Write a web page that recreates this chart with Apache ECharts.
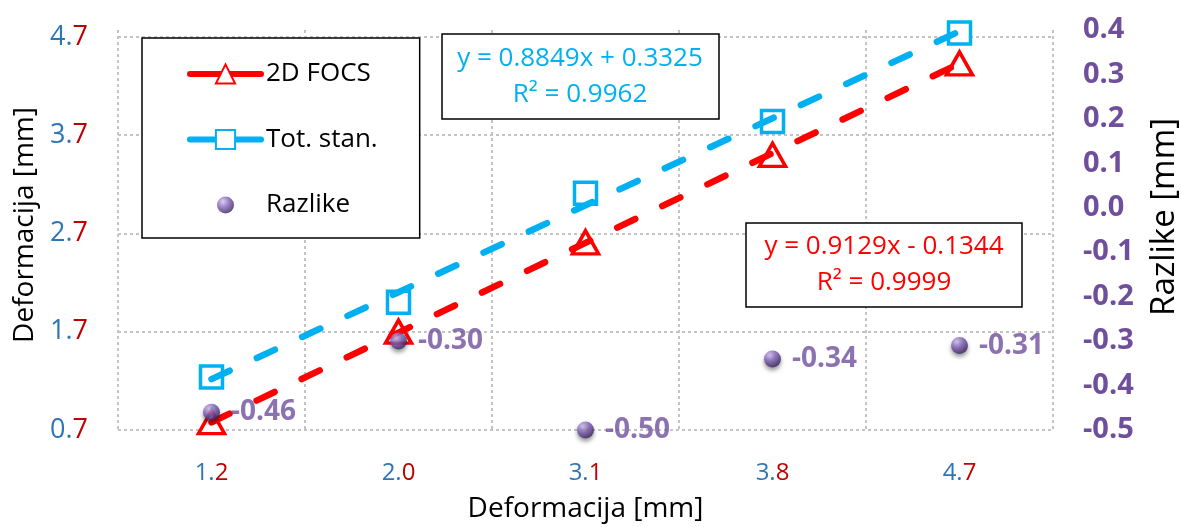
<!DOCTYPE html>
<html>
<head>
<meta charset="utf-8">
<script src="https://cdn.jsdelivr.net/npm/echarts@6/dist/echarts.min.js"></script>
<style>
html,body{margin:0;padding:0;background:#fff;}
#c{width:1181px;height:527px;}
</style>
</head>
<body>
<div id="c"></div>
<script>
// ---- data ----
const categories = ['1.2', '2.0', '3.1', '3.8', '4.7'];
const focs = [0.78, 1.70, 2.61, 3.50, 4.43];
const totStan = [1.24, 2.00, 3.11, 3.84, 4.74];
const razlike = [-0.46, -0.30, -0.50, -0.34, -0.31];
const trendSlopes = [0.9129, 0.8849];      // 2D FOCS, Tot. stan.
const trendIntercepts = [-0.1344, 0.3325];
const trendR2 = [0.9999, 0.9962];
const seriesNames = ['2D FOCS', 'Tot. stan.', 'Razlike'];

const FONT = '"Open Sans", "Noto Sans", sans-serif';
const RED = '#ff0000', BLUE = '#00b0f0', PURPLE = '#6f4f9c';
const LBL_BLUE = '#2e75b6', LBL_RED = '#c00000';

function trendValues(k) {
  return categories.map((c, i) => +(trendSlopes[k] * (i + 1) + trendIntercepts[k]).toFixed(4));
}
function eqText(k) {
  const b = trendIntercepts[k];
  return 'y = ' + trendSlopes[k].toFixed(4) + 'x ' + (b < 0 ? '- ' : '+ ') + Math.abs(b).toFixed(4) +
         '\nR\u00B2 = ' + trendR2[k].toFixed(4);
}
function twoTone(s) {
  return '{b|' + s.slice(0, -1) + '}{r|' + s.slice(-1) + '}';
}
const gridLine = {color: '#c4c4c4', width: 2, type: [3, 3]};

const chart = echarts.init(document.getElementById('c'), null, {renderer: 'canvas'});
const sphereStops = [
  {offset: 0, color: '#d2c2ee'},
  {offset: 0.45, color: '#8364ba'},
  {offset: 1, color: '#341d56'}
];
const sphere = new echarts.graphic.RadialGradient(0.35, 0.3, 0.75, sphereStops);
const sphereLegend = new echarts.graphic.RadialGradient(0.394, 0.358, 0.531, sphereStops);

chart.setOption({
  animation: false,
  backgroundColor: '#fff',
  textStyle: {fontFamily: FONT},
  grid: {left: 118, right: 128, top: 30, bottom: 97, containLabel: false, outerBoundsMode: 'none'},
  legend: {
    orient: 'vertical',
    left: 142, top: 38,
    padding: [23, 42, 20, 45],
    itemGap: 39.5,
    itemWidth: 71, itemHeight: 24,
    backgroundColor: '#fff',
    borderColor: '#000', borderWidth: 1.5,
    textStyle: {fontSize: 26, color: '#000', fontFamily: FONT},
    data: [
      {name: seriesNames[0], lineStyle: {color: RED, width: 6, type: 'solid', cap: 'round', opacity: 1}},
      {name: seriesNames[1], lineStyle: {color: BLUE, width: 6, type: 'solid', cap: 'round', opacity: 1}},
      {name: seriesNames[2],
       icon: 'path://M0,0M24,24M20.5,12A8.5,8.5,0,1,1,3.5,12A8.5,8.5,0,1,1,20.5,12Z',
       itemStyle: {color: sphereLegend}}
    ]
  },
  xAxis: {
    type: 'category',
    data: categories,
    boundaryGap: true,
    axisLine: {show: false},
    axisTick: {show: false},
    splitLine: {show: true, interval: 0, lineStyle: gridLine},
    axisLabel: {
      margin: 31, interval: 0,
      formatter: v => twoTone(v),
      rich: {
        b: {color: LBL_BLUE, fontSize: 24, fontFamily: FONT},
        r: {color: LBL_RED, fontSize: 24, fontFamily: FONT}
      }
    },
    name: 'Deformacija [mm]',
    nameLocation: 'middle',
    nameGap: 65,
    nameTextStyle: {fontSize: 28, color: '#000', fontFamily: FONT}
  },
  yAxis: [
    {
      type: 'value', position: 'left',
      min: 0.7, max: 4.77, interval: 1,
      axisLine: {show: false}, axisTick: {show: false},
      splitLine: {show: true, showMaxLine: false, lineStyle: gridLine},
      axisLabel: {
        margin: 30, showMaxLabel: false,
        formatter: v => twoTone((Math.round(v * 10) / 10).toFixed(1)),
        rich: {
          b: {color: LBL_BLUE, fontSize: 27, fontFamily: FONT},
          r: {color: LBL_RED, fontSize: 27, fontFamily: FONT}
        }
      },
      name: 'Deformacija [mm]',
      nameLocation: 'middle', nameRotate: 90, nameGap: 78,
      nameTextStyle: {fontSize: 28, color: '#000', fontFamily: FONT, padding: [0, 0, 0, 10]}
    },
    {
      type: 'value', position: 'right',
      min: -0.5, max: 0.4, interval: 0.1,
      axisLine: {show: false}, axisTick: {show: false},
      splitLine: {show: false},
      axisLabel: {
        margin: 30, align: 'left',
        color: PURPLE, fontWeight: 'bold', fontSize: 29, fontFamily: FONT,
        formatter: v => (Math.round(v * 10) / 10).toFixed(1)
      },
      name: 'Razlike [mm]',
      nameLocation: 'middle', nameRotate: 90, nameGap: 95,
      nameTextStyle: {fontSize: 33, color: '#000', fontFamily: FONT, padding: [0, 0, 0, 26]}
    }
  ],
  series: [
    {
      name: seriesNames[0], type: 'line', data: focs, z: 2,
      symbol: 'triangle', symbolSize: [26, 23],
      lineStyle: {width: 0, opacity: 0},
      itemStyle: {color: '#fff', borderColor: RED, borderWidth: 3.5}
    },
    {
      name: seriesNames[1], type: 'line', data: totStan, z: 2,
      symbol: 'rect', symbolSize: 22,
      lineStyle: {width: 0, opacity: 0},
      itemStyle: {color: '#fff', borderColor: BLUE, borderWidth: 3.5}
    },
    {
      name: 'trend0', type: 'line', data: trendValues(0), z: 3,
      symbol: 'none', silent: true,
      lineStyle: {color: RED, width: 6.5, type: [20, 30], cap: 'round'}
    },
    {
      name: 'trend1', type: 'line', data: trendValues(1), z: 3,
      symbol: 'none', silent: true,
      lineStyle: {color: BLUE, width: 6.5, type: [20, 30], cap: 'round'}
    },
    {
      name: seriesNames[2], type: 'scatter', yAxisIndex: 1, data: razlike, z: 5,
      symbol: 'circle', symbolSize: 17,
      itemStyle: {color: sphere, shadowBlur: 4, shadowColor: 'rgba(0,0,0,0.5)', shadowOffsetY: 3},
      label: {
        show: true, position: 'right', distance: 11,
        formatter: p => Number(p.data).toFixed(2),
        color: PURPLE, fontWeight: 'bold', fontSize: 28, fontFamily: FONT
      }
    }
  ],
  graphic: [
    {type: 'rect', x: 442, y: 34, shape: {width: 277, height: 85}, z: 100,
     style: {fill: '#fff', stroke: '#000', lineWidth: 1.5}},
    {type: 'text', x: 580, y: 77, z: 101,
     style: {text: eqText(1), fill: BLUE, font: '26px ' + FONT, align: 'center', verticalAlign: 'middle', lineHeight: 36}},
    {type: 'rect', x: 746, y: 223, shape: {width: 276, height: 84}, z: 100,
     style: {fill: '#fff', stroke: '#000', lineWidth: 1.5}},
    {type: 'text', x: 884, y: 265, z: 101,
     style: {text: eqText(0), fill: RED, font: '26px ' + FONT, align: 'center', verticalAlign: 'middle', lineHeight: 36}}
  ]
});
</script>
</body>
</html>
